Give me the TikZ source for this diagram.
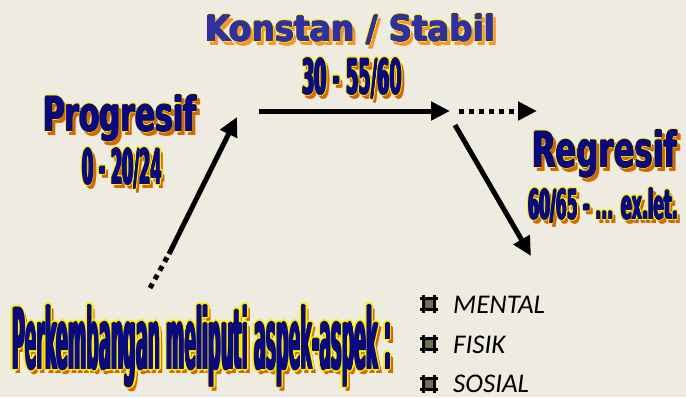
\documentclass[tikz,border=0pt]{standalone}
\usepackage{fontspec}
\usepackage{xcolor}
\usepackage{graphicx}
\usepackage{tikz}
\usetikzlibrary{arrows.meta, positioning}

\newfontfamily\heavyfont{DejaVu Sans}
\newfontfamily\itemfont{Carlito}

\definecolor{bgcol}{RGB}{238,235,225}
\definecolor{navy}{RGB}{10,10,125}
\definecolor{softblue}{RGB}{48,48,160}
\definecolor{darkorange}{RGB}{210,106,0}
\definecolor{brightorange}{RGB}{247,150,40}
\definecolor{glowyellow}{RGB}{255,240,0}
\definecolor{bulletgray}{RGB}{110,110,82}

% name, base point, width, height, text, text colour, shadow colour, outline
\newcommand{\shadowlabel}[8]{%
  \foreach \a in {0,90,180,270}
    \node[lbl, text=#7, shift={(3,4)}, shift={(\a:0.8)}] at #2 {\resizebox{#3}{#4}{#5}};
  \foreach \a in {0,45,...,315}
    \node[lbl, text=glowyellow, shift={(\a:#8)}] at #2 {\resizebox{#3}{#4}{#5}};
  \foreach \a in {0,90,180,270}
    \node[lbl, text=#6, shift={(\a:0.8)}] at #2 {\resizebox{#3}{#4}{#5}};
  \node[lbl, text=#6] (#1) at #2 {\resizebox{#3}{#4}{#5}};
}

\begin{document}
\begin{tikzpicture}[
    x=1pt, y=-1pt,
    lbl/.style={anchor=base west, inner sep=0pt, font=\heavyfont\bfseries},
    item/.style={anchor=base west, inner sep=0pt, font=\itemfont\itshape\fontsize{27}{30}\selectfont},
    hashbox/.style={rectangle, minimum size=11pt, inner sep=0pt, fill=bulletgray},
    arrow/.style={-{Triangle[length=19pt, width=18pt]}, line width=5pt},
    dots/.style={line width=5pt, dash pattern=on 5pt off 5pt}
]

\fill[bgcol] (0,0) rectangle (686,397);
\useasboundingbox (0,0) rectangle (686,397);

% Labels
\shadowlabel{konstan}{(205,41)}{290pt}{27pt}{Konstan / Stabil}{softblue}{brightorange}{1.1}
\shadowlabel{konstanage}{(302,94)}{100pt}{36pt}{30 - 55/60}{navy}{darkorange}{1.5}
\shadowlabel{progresif}{(43,131)}{153pt}{36pt}{Progresif}{navy}{darkorange}{1.1}
\shadowlabel{progresifage}{(82,184)}{80pt}{36pt}{0 - 20/24}{navy}{darkorange}{1.5}
\shadowlabel{regresif}{(532,167)}{145pt}{37pt}{Regresif}{navy}{darkorange}{1.1}
\shadowlabel{regresifage}{(528,219)}{150pt}{31pt}{60/65 - ... ex.let.}{navy}{darkorange}{1.5}
\shadowlabel{aspek}{(12,369)}{379pt}{64pt}{Perkembangan meliputi aspek-aspek :}{navy}{darkorange}{2.4}

% Aspects
\node[item] (mental) at (453,313) {MENTAL};
\node[item] (fisik) at (453,353) {FISIK};
\node[item] (sosial) at (453,392) {SOSIAL};

\foreach \n/\y in {b1/304, b2/344, b3/384} {
  \node[hashbox] (\n) at (429,\y) {};
  \draw[line width=2.6pt] ([xshift=-3pt]\n.north west) -- ([xshift=3pt]\n.north east);
  \draw[line width=2.6pt] ([xshift=-3pt]\n.south west) -- ([xshift=3pt]\n.south east);
  \draw[line width=2.6pt] ([yshift=3pt]\n.north west) -- ([yshift=-3pt]\n.south west);
  \draw[line width=2.6pt] ([yshift=3pt]\n.north east) -- ([yshift=-3pt]\n.south east);
}

% Arrows
\coordinate (upstart) at (150,288);
\coordinate (upmid) at (169,254);
\coordinate (uptip) at (237,117);
\coordinate (flatstart) at (259,111);
\coordinate (flattip) at (450,111);
\coordinate (dotstart) at (459,111);
\coordinate (dottip) at (537,111);
\coordinate (downstart) at (455,125);
\coordinate (downtip) at (531,256);

\draw[dots] (upstart) -- (upmid);
\draw[arrow] (upmid) -- (uptip);
\draw[arrow] (flatstart) -- (flattip);
\draw[arrow, dots] (dotstart) -- (dottip);
\draw[arrow] (downstart) -- (downtip);
\end{tikzpicture}
\end{document}
